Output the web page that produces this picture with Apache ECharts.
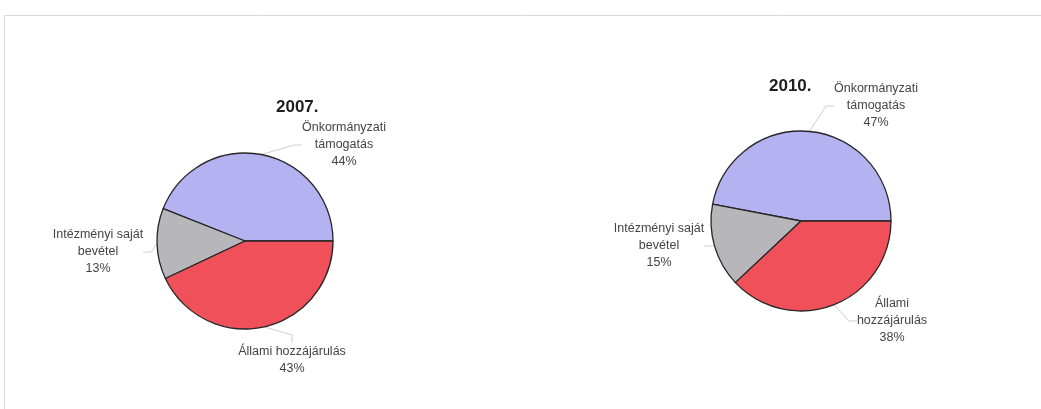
<!DOCTYPE html>
<html>
<head>
<meta charset="utf-8">
<script src="https://cdn.jsdelivr.net/npm/echarts@6/dist/echarts.min.js"></script>
<style>
html,body{margin:0;padding:0;background:#fff;}
#c{width:1041px;height:409px;}
</style>
</head>
<body>
<div id="c"></div>
<script>
const categories = ['Önkormányzati\ntámogatás', 'Intézményi saját\nbevétel', 'Állami hozzájárulás'];
const categories2010 = ['Önkormányzati\ntámogatás', 'Intézményi saját\nbevétel', 'Állami\nhozzájárulás'];
const years = ['2007.', '2010.'];
const values2007 = [44, 13, 43];
const values2010 = [47, 15, 38];

const colors = ['#b4b2f0', '#b7b7bb', '#f0505a'];
// label centre positions (layout only)
const labelPos = [
  [[344, 145], [98, 252], [292, 360]],
  [[876, 106], [659, 246], [892, 321]]
];

const chart = echarts.init(document.getElementById('c'), null, {renderer: 'canvas'});

function makeSeries(idx, names, vals, center, radius) {
  return {
    type: 'pie',
    center: center,
    radius: radius,
    startAngle: 0,
    clockwise: false,
    animation: false,
    silent: true,
    data: names.map((n, i) => ({
      name: n, value: vals[i],
      itemStyle: {color: colors[i], borderColor: '#262626', borderWidth: 1.3}
    })),
    label: {
      show: true,
      position: 'outside',
      formatter: '{b}\n{c}%',
      fontFamily: 'Liberation Sans, Arial, sans-serif',
      fontSize: 12.5,
      lineHeight: 17,
      color: '#444',
      align: 'center'
    },
    labelLine: {
      show: true,
      length: 8,
      length2: 8,
      lineStyle: {color: '#cfcfcf', width: 1}
    },
    labelLayout: function (p) {
      const pos = labelPos[idx][p.dataIndex];
      return {x: pos[0], y: pos[1], align: 'center', verticalAlign: 'middle'};
    },
    emphasis: {disabled: true}
  };
}

chart.setOption({
  backgroundColor: '#fff',
  title: [
    {text: years[0], left: 271, top: 94,
     textStyle: {fontFamily: 'Liberation Sans, Arial, sans-serif', fontSize: 17, fontWeight: 'bold', color: '#1e1e1e'}},
    {text: years[1], left: 764, top: 73,
     textStyle: {fontFamily: 'Liberation Sans, Arial, sans-serif', fontSize: 17, fontWeight: 'bold', color: '#1e1e1e'}}
  ],
  graphic: [
    {type: 'rect', shape: {x: 4.5, y: 15.5, width: 1100, height: 500},
     style: {fill: 'none', stroke: '#d8d8d8', lineWidth: 1}, silent: true}
  ],
  series: [
    makeSeries(0, categories, values2007, [245, 241], 88),
    makeSeries(1, categories2010, values2010, [801, 221], 90)
  ]
});
</script>
</body>
</html>
